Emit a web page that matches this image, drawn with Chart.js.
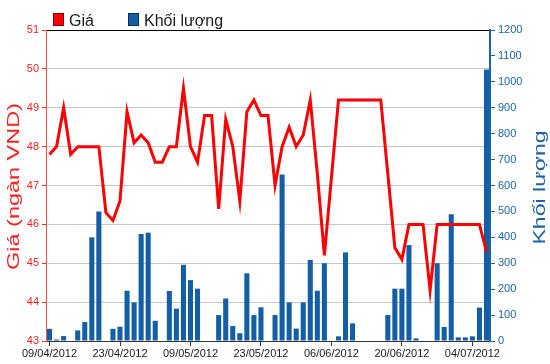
<!DOCTYPE html>
<html><head><meta charset="utf-8">
<script src="https://cdn.jsdelivr.net/npm/chart.js@4.4.1/dist/chart.umd.min.js"></script>
<style>html,body{margin:0;padding:0;background:#fff;}#wrap{position:relative;width:550px;height:364px;}</style>
</head><body><div id="wrap"><canvas id="c"></canvas></div>
<script>
const dates = ["09/04/2012","10/04/2012","11/04/2012","12/04/2012","13/04/2012","16/04/2012","17/04/2012","18/04/2012","19/04/2012","20/04/2012",
"23/04/2012","24/04/2012","25/04/2012","26/04/2012","27/04/2012","02/05/2012","03/05/2012","04/05/2012","07/05/2012","08/05/2012",
"09/05/2012","10/05/2012","11/05/2012","14/05/2012","15/05/2012","16/05/2012","17/05/2012","18/05/2012","21/05/2012","22/05/2012",
"23/05/2012","24/05/2012","25/05/2012","28/05/2012","29/05/2012","30/05/2012","31/05/2012","01/06/2012","04/06/2012","05/06/2012",
"06/06/2012","07/06/2012","08/06/2012","11/06/2012","12/06/2012","13/06/2012","14/06/2012","15/06/2012","18/06/2012","19/06/2012",
"20/06/2012","21/06/2012","22/06/2012","25/06/2012","26/06/2012","27/06/2012","28/06/2012","29/06/2012","02/07/2012","03/07/2012",
"04/07/2012","05/07/2012","06/07/2012"];
const price = [47.8,48.0,49.0,47.8,48.0,48.0,48.0,48.0,46.3,46.1,
46.6,48.9,48.1,48.3,48.1,47.6,47.6,48.0,48.0,49.5,
48.0,47.6,48.8,48.8,46.4,48.7,48.0,46.6,48.9,49.2,
48.8,48.8,47.0,48.0,48.5,48.0,48.3,49.2,47.3,45.2,
47.2,49.2,49.2,49.2,49.2,49.2,49.2,49.2,47.3,45.4,
45.1,46.0,46.0,46.0,44.3,46.0,46.0,46.0,46.0,46.0,
46.0,46.0,45.3];
const volume = [47,6,19,0,41,73,400,500,0,47,
55,194,149,413,418,78,0,193,125,294,
235,202,0,0,100,164,58,30,261,100,
130,0,100,642,149,48,149,313,194,300,
0,18,342,68,0,0,0,0,100,202,
202,370,10,0,0,300,54,489,14,14,
18,129,1048];
const seriesNames = ["Giá","Khối lượng"];
const leftTitle = "Giá (ngàn VND)";
const rightTitle = "Khối lượng";
const RED = '#ff0000', BLUE = '#145ea6';
const FONT = "'Liberation Sans', Arial, sans-serif";

const decor = {
  id: 'decor',
  afterDraw(chart) {
    const ctx = chart.ctx, ca = chart.chartArea;
    const cy = (ca.top + ca.bottom) / 2;
    function vText(t, x, y, color, sx) {
      ctx.save();
      ctx.translate(x, y);
      ctx.rotate(-Math.PI / 2);
      ctx.scale(sx, 1);
      ctx.font = "17px " + FONT;
      ctx.fillStyle = color;
      ctx.textAlign = 'center';
      ctx.textBaseline = 'alphabetic';
      ctx.fillText(t, 0, 0);
      ctx.restore();
    }
    vText(leftTitle, 19, cy + 1, '#ff2020', 1.38);
    vText(rightTitle, 545, cy + 2, '#1c64a8', 1.36);
    // legend
    const items = [{x: 53, c: RED, b: '#8a0000'}, {x: 128, c: BLUE, b: '#0a2a50'}];
    ctx.save();
    ctx.font = "16px " + FONT;
    ctx.textBaseline = 'alphabetic';
    ctx.textAlign = 'left';
    chart.data.datasets.forEach((ds, i) => {
      const it = items[i];
      ctx.fillStyle = it.c;
      ctx.fillRect(it.x, 13, 10, 13);
      ctx.strokeStyle = it.b;
      ctx.lineWidth = 1;
      ctx.strokeRect(it.x + 0.5, 13.5, 10, 12);
      ctx.fillStyle = '#1a1a1a';
      ctx.fillText(ds.label, it.x + 16, 26);
    });
    ctx.restore();
  }
};

new Chart(document.getElementById('c'), {
  data: {
    labels: dates,
    datasets: [
      {type: 'line', label: seriesNames[0], data: price, yAxisID: 'y', borderColor: RED, backgroundColor: RED,
       borderWidth: 3, pointRadius: 0, tension: 0, order: 1},
      {type: 'bar', label: seriesNames[1], data: volume, yAxisID: 'y1', backgroundColor: BLUE,
       categoryPercentage: 1, barPercentage: 0.72, order: 2}
    ]
  },
  options: {
    responsive: true, maintainAspectRatio: false, animation: false,
    layout: {padding: {top: 30, left: 0, right: 0, bottom: 0}},
    plugins: {legend: {display: false}, tooltip: {enabled: false}},
    scales: {
      x: {
        offset: true,
        grid: {drawOnChartArea: false, offset: false, tickLength: 5,
               color: c => (c.index % 10 === 0 ? '#333' : 'rgba(0,0,0,0)')},
        border: {color: '#333', width: 1},
        ticks: {autoSkip: false, maxRotation: 0, minRotation: 0, padding: 1, color: '#1a1a1a',
                font: {size: 11, family: FONT},
                callback: (v, i) => (i % 10 === 0 ? dates[i] : '')},
        afterFit: s => { s.height = 23; }
      },
      y: {
        position: 'left', min: 43, max: 51,
        ticks: {stepSize: 1, color: '#ff2020', padding: 3, font: {size: 11, family: FONT},
                callback: v => String(v)},
        grid: {color: c => (c.tick && c.tick.value === 51 ? '#000' : '#c8c8c8'), tickColor: '#ff3030', tickLength: 4, lineWidth: 1},
        border: {color: '#ff5050', width: 1},
        afterFit: s => { s.width = 46; }
      },
      y1: {
        position: 'right', min: 0, max: 1200,
        ticks: {stepSize: 100, color: '#1c64a8', padding: 3, font: {size: 11, family: FONT},
                callback: v => String(v)},
        grid: {drawOnChartArea: false, tickColor: '#1c64a8', tickLength: 5},
        border: {color: '#1c64a8', width: 2},
        afterFit: s => { s.width = 60; }
      }
    }
  },
  plugins: [decor]
});
</script>
</body></html>
